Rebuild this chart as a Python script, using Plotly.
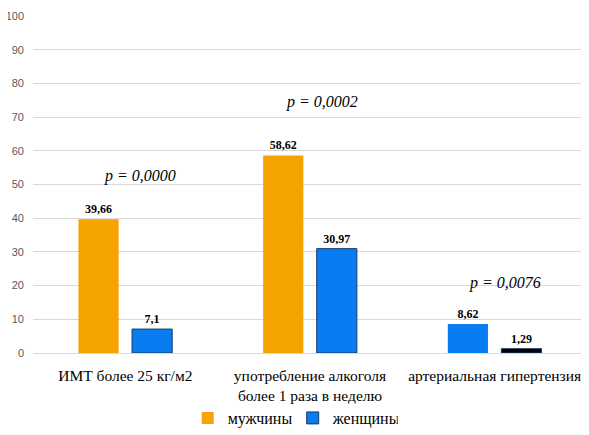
import plotly.graph_objects as go

categories = ["ИМТ более 25 кг/м2", "употребление алкоголя<br>более 1 раза в неделю", "артериальная гипертензия"]
men = [39.66, 58.62, 8.62]
women = [7.1, 30.97, 1.29]
men_labels = ["39,66", "58,62", "8,62"]
women_labels = ["7,1", "30,97", "1,29"]
men_colors = ["#F5A300", "#F5A300", "#0A7CF2"]
women_colors = ["#0A7CF2", "#0A7CF2", "#000000"]
p_texts = ["p = 0,0000", "p = 0,0002", "p = 0,0076"]
p_y = [52.5, 74.5, 20.8]
p_dx = [15, 12, 10]

fig = go.Figure()
fig.add_trace(go.Bar(
    x=categories, y=men, name="мужчины",
    marker=dict(color=men_colors, line=dict(width=0)),
    text=men_labels, textposition="outside", cliponaxis=False,
    textfont=dict(family="Liberation Serif", size=12, color="#000000"),
    texttemplate="<b>%{text}</b>",
))
fig.add_trace(go.Bar(
    x=categories, y=women, name="женщины",
    marker=dict(color=women_colors, line=dict(width=1, color="#1a3a6a")),
    text=women_labels, textposition="outside", cliponaxis=False,
    textfont=dict(family="Liberation Serif", size=12, color="#000000"),
    texttemplate="<b>%{text}</b>",
))

for i, (t, y) in enumerate(zip(p_texts, p_y)):
    fig.add_annotation(x=i, y=y, xref="x", yref="y", text="<i>" + t + "</i>",
                       showarrow=False, xshift=p_dx[i],
                       font=dict(family="Liberation Serif", size=16, color="#000000"))

fig.update_layout(
    width=581, height=427,
    margin=dict(l=25, r=2, t=8, b=82),
    plot_bgcolor="white", paper_bgcolor="white",
    barmode="group", bargap=0.42, bargroupgap=0.25,
    showlegend=True,
    legend=dict(orientation="h", x=0.49, xanchor="center", xref="container",
                y=-0.005, yanchor="bottom", yref="container",
                bgcolor="rgba(0,0,0,0)",
                font=dict(family="Liberation Serif", size=16, color="#000000"),
                itemwidth=30, entrywidth=60, entrywidthmode="pixels",
                traceorder="normal"),
    xaxis=dict(tickfont=dict(family="Liberation Serif", size=15.5, color="#000000"),
               showgrid=False, showline=False, ticks="", automargin=False,
               ticklabelstandoff=11),
    yaxis=dict(range=[0, 100], dtick=10, showgrid=True, gridcolor="#D9D9D9",
               zeroline=True, zerolinecolor="#D9D9D9", zerolinewidth=1,
               tickfont=dict(family="Liberation Sans", size=11, color="#595959"),
               ticks="", ticklabelstandoff=8, automargin=False),
)

fig.write_html("out.html")
